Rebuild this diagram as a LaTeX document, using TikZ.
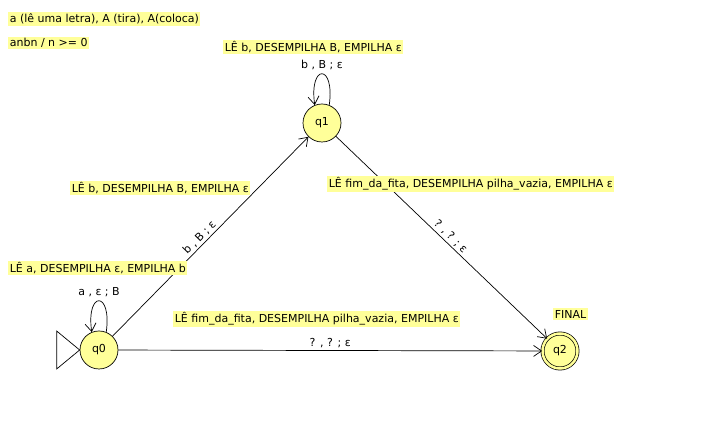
\documentclass[tikz,border=0pt]{standalone}
\usepackage{fontspec}
\setmainfont{DejaVu Sans}
\usetikzlibrary{arrows.meta}
\definecolor{jflap}{RGB}{255,255,153}

\begin{document}
\begin{tikzpicture}[x = 1pt, y = 1pt, line width = 0.7pt,
								font = \fontsize{11}{13}\selectfont,
								state/.style = {circle, draw, fill = jflap,
								minimum size = 38pt, inner sep = 0pt},
								final/.style = {state, minimum size = 35pt,
								double = jflap, double distance = 2.5pt},
								note/.style = {fill = jflap, anchor = west,
								inner sep = 1.5pt},
								edge/.style = {-{Straight Barb[length = 8pt, width = 11pt]}},
								]
				\useasboundingbox (0,0) rectangle (713,441);

				\node [state] (q_0) at (99,91) {q0};
				\node [state] (q_1) at (322,318) {q1};
				\node [final] (q_2) at (560,90) {q2};

				% initial marker
				\draw (q_0.west) -- ++(-23,19) -- ++(0,-38) -- cycle;

				\draw [edge] (q_0) -- node [above, sloped, pos = 0.47, inner sep = 2pt] {b , B ; ε} (q_1);
				\draw [edge] (q_1) -- node [above, sloped, pos = 0.52, inner sep = 2pt] {? , ? ; ε} (q_2);
				\draw [edge] (q_0) -- node [above, pos = 0.5, inner sep = 2pt] {? , ? ; ε} (q_2);
				\draw [edge] (q_0.68) .. controls +(82:42) and +(98:42) ..
					node [above] {a , ε ; B} (q_0.112);
				\draw [edge] (q_1.68) .. controls +(82:42) and +(98:42) ..
					node [above] {b , B ; ε} (q_1.112);

				\node [note] (t_1) at (8,422) {a (lê uma letra), A (tira), A(coloca)};
				\node [note] (t_2) at (8,398) {anbn / n >= 0};
				\node [note] (t_3) at (223,394) {LÊ b, DESEMPILHA B, EMPILHA ε};
				\node [note] (t_4) at (70,253) {LÊ b, DESEMPILHA B, EMPILHA ε};
				\node [note] (t_5) at (8,173) {LÊ a, DESEMPILHA ε, EMPILHA b};
				\node [note] (t_6) at (327,257) {LÊ fim\_da\_fita, DESEMPILHA pilha\_vazia, EMPILHA ε};
				\node [note] (t_7) at (173,122) {LÊ fim\_da\_fita, DESEMPILHA pilha\_vazia, EMPILHA ε};
				\node [note] (t_8) at (553,127) {FINAL};
			\end{tikzpicture}
\end{document}
